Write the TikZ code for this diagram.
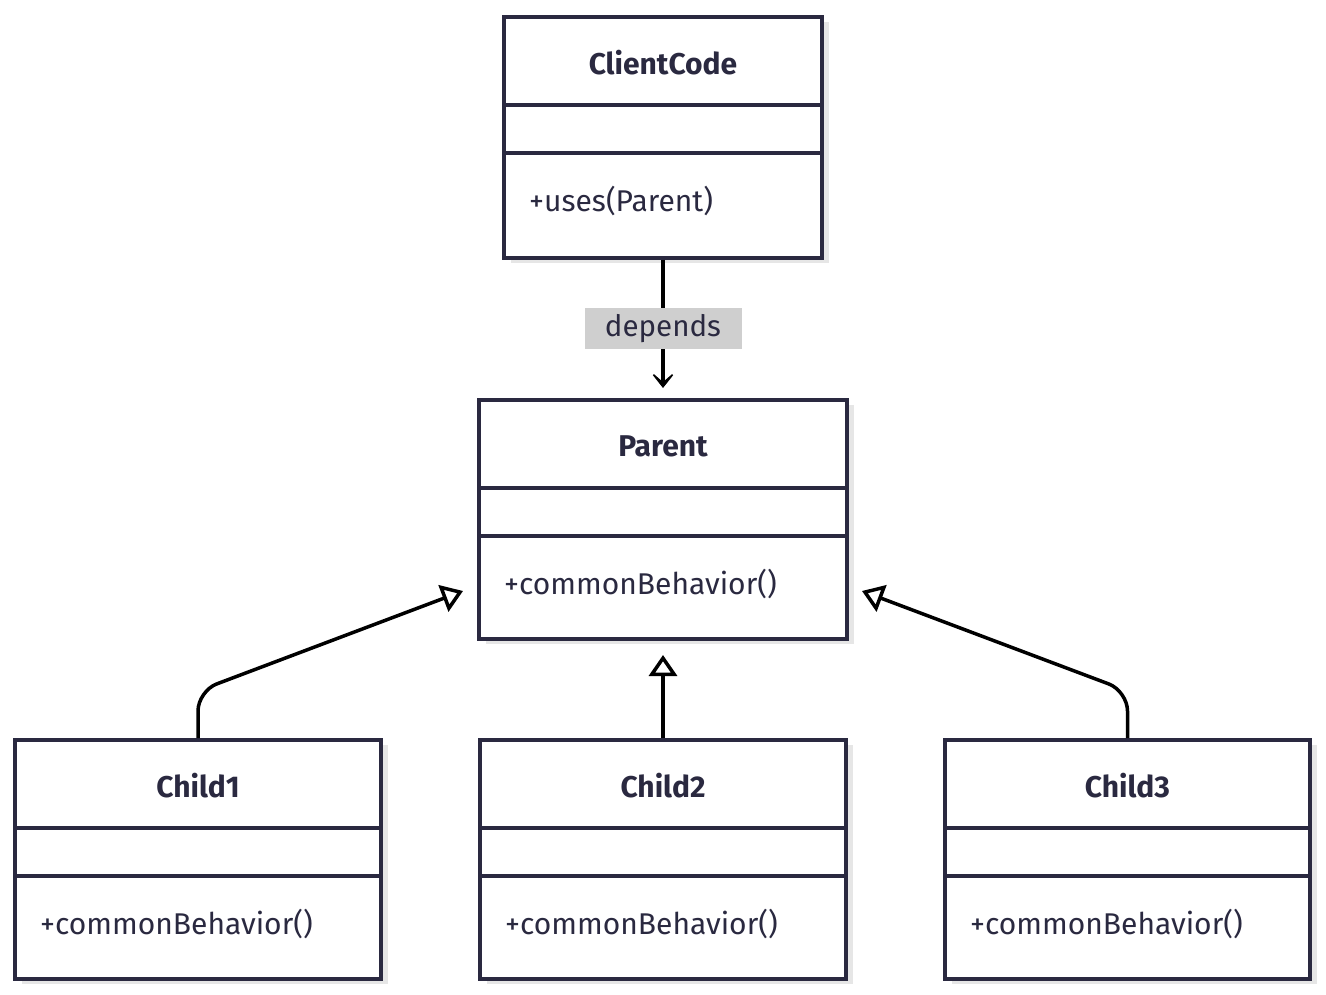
\documentclass[tikz,border=0pt]{standalone}
\usepackage{fontspec}
\setmainfont{Fira Sans}
\usetikzlibrary{arrows.meta}
\definecolor{ink}{HTML}{2A2940}
\definecolor{shadowgray}{HTML}{E6E6E6}
\definecolor{labelgray}{HTML}{CFCFCF}
\tikzset{
  clsbox/.style={draw=ink, line width=3.5pt, fill=white, rectangle, inner sep=0pt},
  clsline/.style={draw=ink, line width=3.5pt},
  clstitle/.style={text=ink, font=\fontsize{30}{34}\selectfont\bfseries, inner sep=0pt},
  clsmethod/.style={text=ink, font=\fontsize{30}{34}\selectfont, inner sep=0pt, anchor=west},
  shadowbox/.style={fill=shadowgray},
  dep/.style={draw=black, line width=3.5pt, -{Stealth[length=19pt,width=30pt,inset=13pt]}},
  inh/.style={draw=black, line width=3.5pt, -{Triangle[open,length=21pt,width=28pt]}, rounded corners=20pt},
  deplabel/.style={fill=labelgray, text=ink, font=\fontsize{29.5}{34}\selectfont, minimum width=157pt, minimum height=41pt, inner sep=0pt}
}
% name, cx, top, width, height, title, method
\newcommand\umlcls[7]{%
  \fill[shadowbox] (#2-#4/2+7,#3+7) rectangle (#2+#4/2+7,#3+#5+7);
  \node[clsbox, minimum width=#4pt, minimum height=#5pt, anchor=north] (#1) at (#2,#3) {};
  \node[clstitle] (#1-title) at (#2,#3+48) {#6};
  \draw[clsline] (#2-#4/2,#3+90) -- (#2+#4/2,#3+90);
  \draw[clsline] (#2-#4/2,#3+138) -- (#2+#4/2,#3+138);
  \node[clsmethod] (#1-method) at (#2-#4/2+25,#3+186) {#7};
}
\begin{document}
\begin{tikzpicture}[x=1pt,y=-1pt]
\useasboundingbox (0,0) rectangle (1326,994);
\umlcls{cc}{663}{15}{318}{241}{ClientCode}{+uses(Parent)}
\umlcls{parent}{663}{398}{368}{239}{Parent}{+commonBehavior()}
\umlcls{c1}{198}{738}{366}{239}{Child1}{+commonBehavior()}
\umlcls{c2}{663}{738}{366}{239}{Child2}{+commonBehavior()}
\umlcls{c3}{1127.5}{738}{365}{239}{Child3}{+commonBehavior()}
\coordinate (k1) at (198,691);
\coordinate (t1) at (463,591);
\coordinate (t2) at (663,655);
\coordinate (k3) at (1127.5,691);
\coordinate (t3) at (862,591);
\draw[dep, shorten >=10pt] (cc.south) -- (parent.north) node[deplabel, pos=0.5] (deplbl) {depends};
\draw[inh] (c1.north) -- (k1) -- (t1);
\draw[inh] (c2.north) -- (t2);
\draw[inh] (c3.north) -- (k3) -- (t3);
\end{tikzpicture}
\end{document}
